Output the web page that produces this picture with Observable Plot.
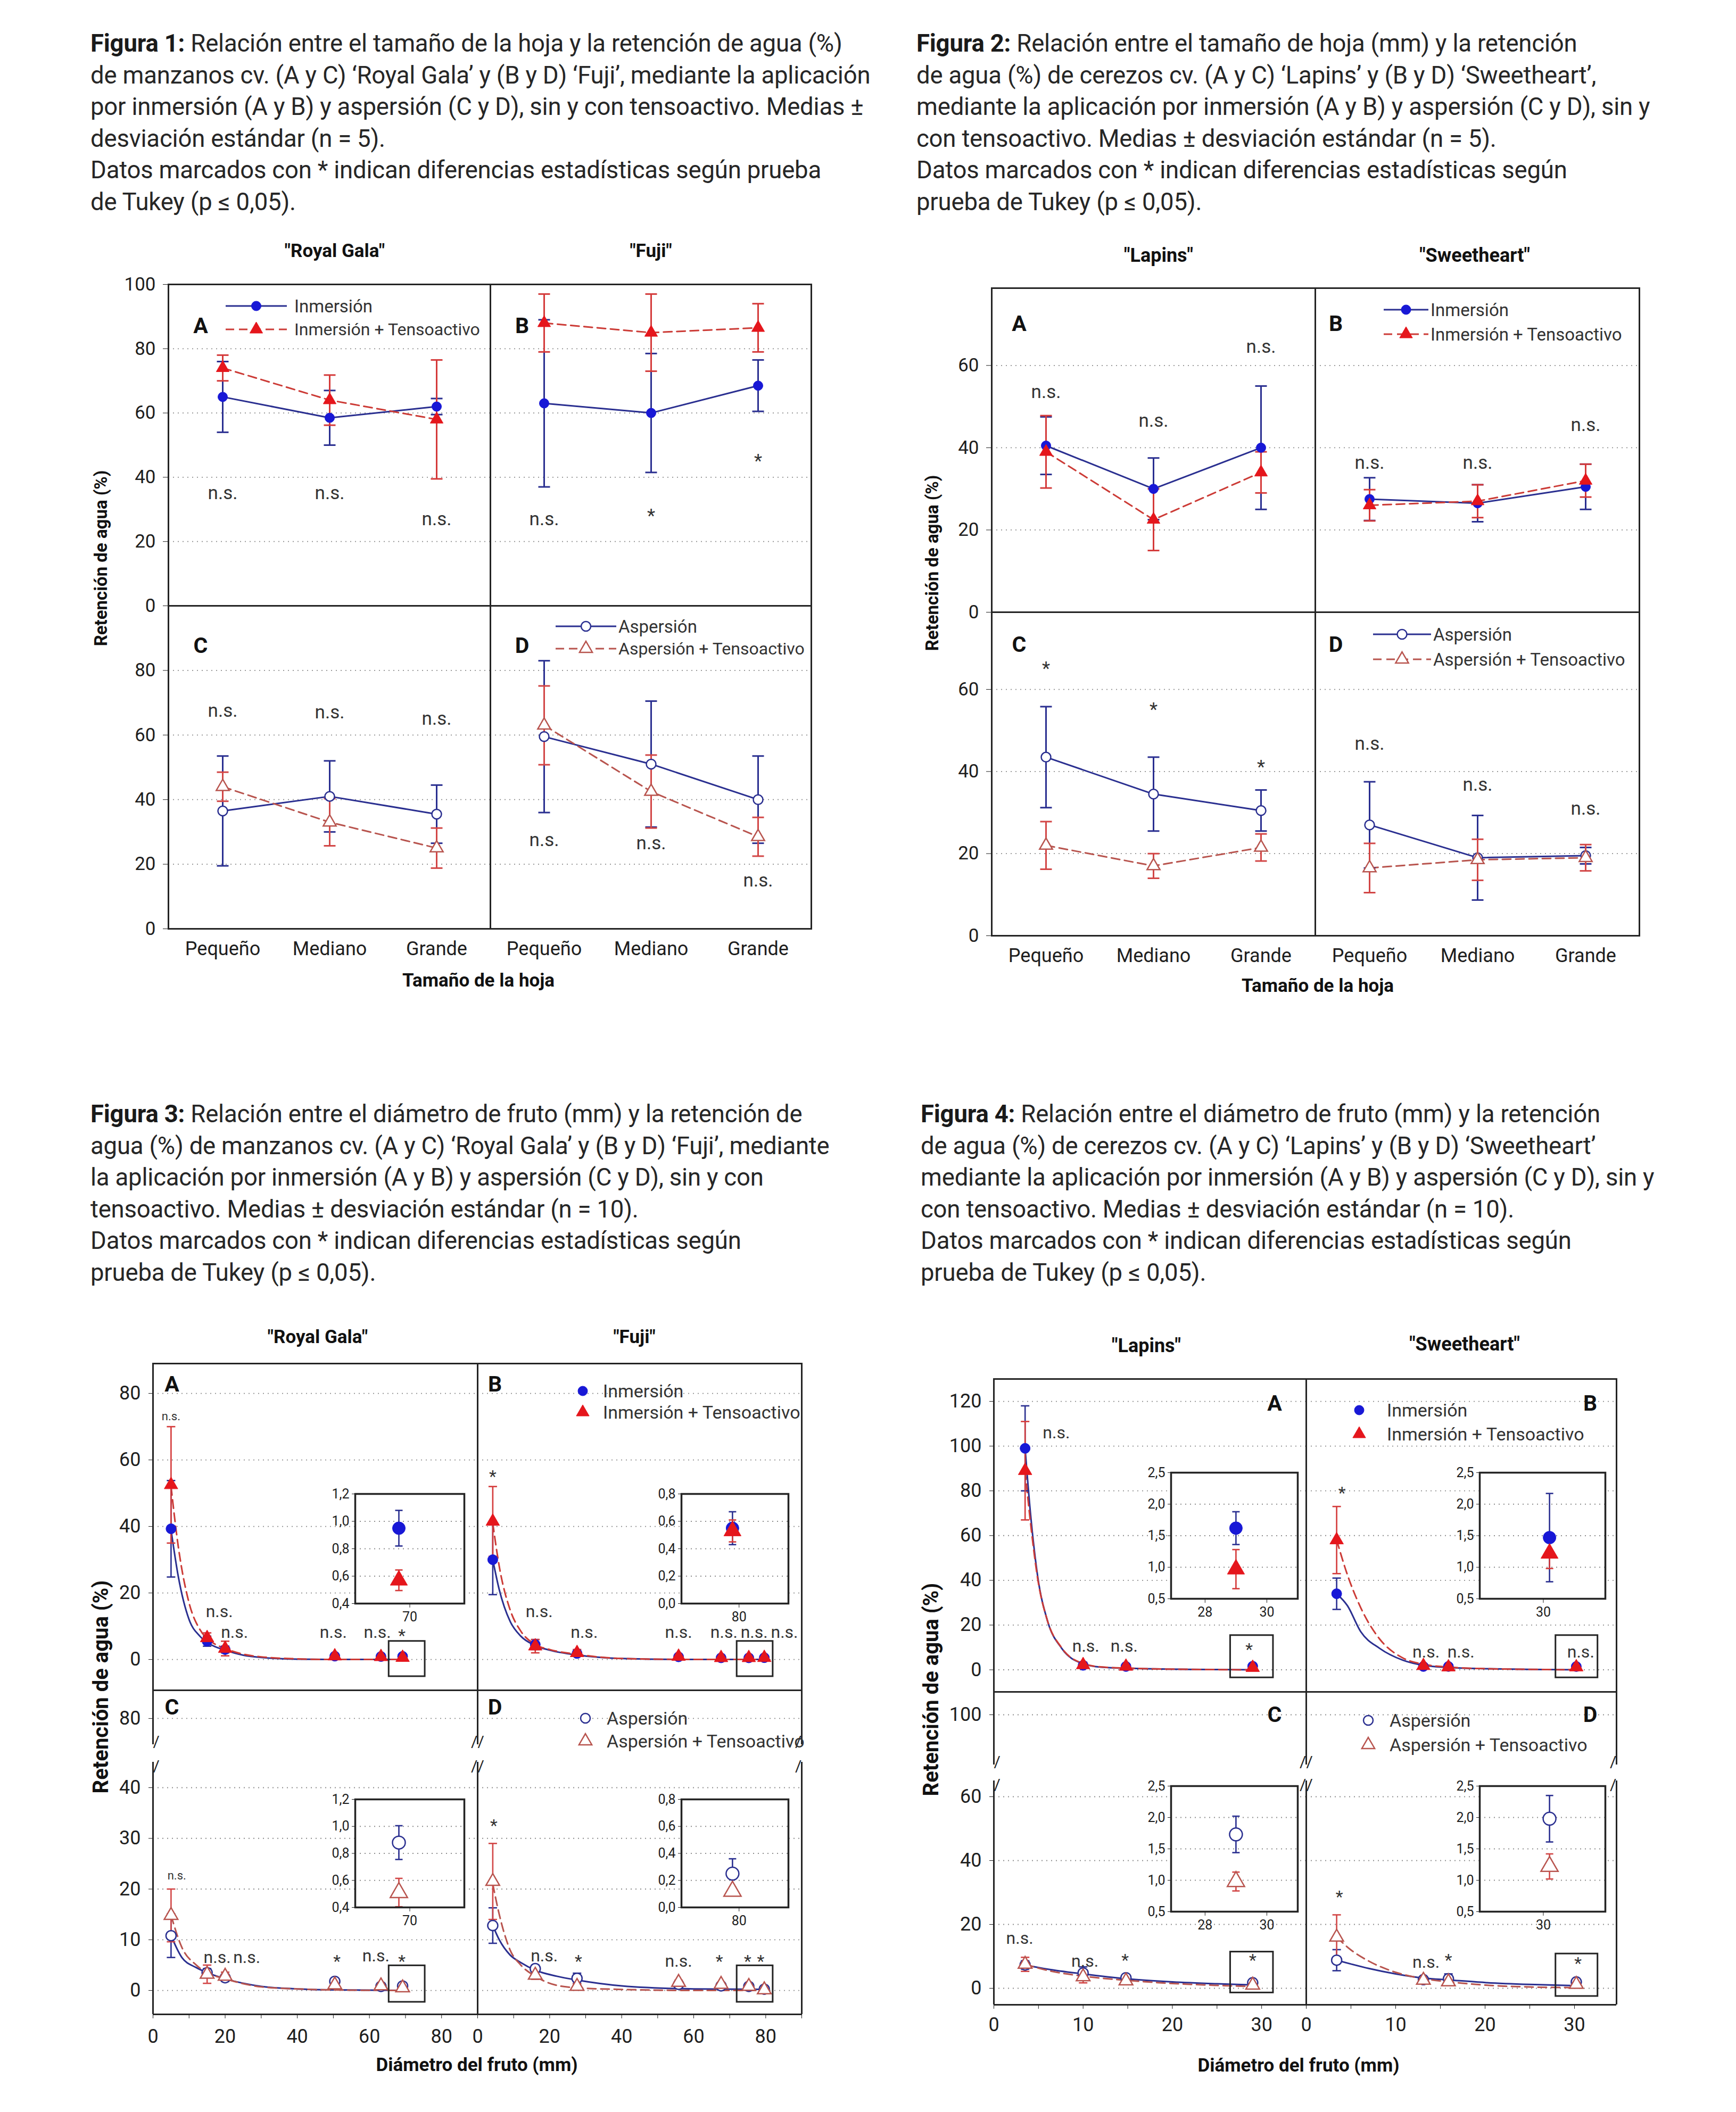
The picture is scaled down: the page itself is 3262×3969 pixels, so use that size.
<!DOCTYPE html>
<html><head><meta charset="utf-8">
<script src="https://cdn.jsdelivr.net/npm/d3@7"></script>
<script src="https://cdn.jsdelivr.net/npm/@observablehq/plot@0.6"></script>
<style>
body{margin:0;background:#fff;}
#page{position:relative;width:3262px;height:3969px;background:#fff;font-family:Roboto,"DejaVu Sans",sans-serif;overflow:hidden;color:#222;}
.cap{position:absolute;font-size:45.5px;line-height:59.5px;white-space:nowrap;letter-spacing:-0.2px;color:#262626;}
.cap b{font-weight:700;color:#1a1a1a;}
.lbl{position:absolute;white-space:nowrap;transform:translate(-50%,-50%);color:#111;}
</style>
</head><body><div id="page">
<div class="cap" style="left:170px;top:52px"><b>Figura 1:</b> Relación entre el tamaño de la hoja y la retención de agua (%)<br>de manzanos cv. (A y C) ‘Royal Gala’ y (B y D) ‘Fuji’, mediante la aplicación<br>por inmersión (A y B) y aspersión (C y D), sin y con tensoactivo. Medias ±<br>desviación estándar (n = 5).<br>Datos marcados con * indican diferencias estadísticas según prueba<br>de Tukey (p ≤ 0,05).</div>
<div class="cap" style="left:1722px;top:52px"><b>Figura 2:</b> Relación entre el tamaño de hoja (mm) y la retención<br>de agua (%) de cerezos cv. (A y C) ‘Lapins’ y (B y D) ‘Sweetheart’,<br>mediante la aplicación por inmersión (A y B) y aspersión (C y D), sin y<br>con tensoactivo. Medias ± desviación estándar (n = 5).<br>Datos marcados con * indican diferencias estadísticas según<br>prueba de Tukey (p ≤ 0,05).</div>
<div class="cap" style="left:170px;top:2064px"><b>Figura 3:</b> Relación entre el diámetro de fruto (mm) y la retención de<br>agua (%) de manzanos cv. (A y C) ‘Royal Gala’ y (B y D) ‘Fuji’, mediante<br>la aplicación por inmersión (A y B) y aspersión (C y D), sin y con<br>tensoactivo. Medias ± desviación estándar (n = 10).<br>Datos marcados con * indican diferencias estadísticas según<br>prueba de Tukey (p ≤ 0,05).</div>
<div class="cap" style="left:1730px;top:2064px"><b>Figura 4:</b> Relación entre el diámetro de fruto (mm) y la retención<br>de agua (%) de cerezos cv. (A y C) ‘Lapins’ y (B y D) ‘Sweetheart’<br>mediante la aplicación por inmersión (A y B) y aspersión (C y D), sin y<br>con tensoactivo. Medias ± desviación estándar (n = 10).<br>Datos marcados con * indican diferencias estadísticas según<br>prueba de Tukey (p ≤ 0,05).</div>
</div>
<script>
// ================= DATA =================
const sizes = ["Pequeño", "Mediano", "Grande"];

// Figura 1 (manzanos, tamaño de hoja)
const f1A_inm = [65, 58.5, 62];    const f1A_inmSd = [11, 8.5, 2.5];
const f1A_ten = [74, 64, 58];      const f1A_tenSd = [4, 7.8, 18.5];
const f1B_inm = [63, 60, 68.5];    const f1B_inmSd = [26, 18.5, 8];
const f1B_ten = [88, 85, 86.5];    const f1B_tenSd = [9, 12, 7.5];
const f1C_asp = [36.5, 41, 35.5];  const f1C_aspSd = [17, 11, 9];
const f1C_ten = [44, 33, 25];      const f1C_tenSd = [4.5, 7.3, 6.2];
const f1D_asp = [59.5, 51, 40];    const f1D_aspSd = [23.5, 19.5, 13.5];
const f1D_ten = [63, 42.5, 28.5];  const f1D_tenSd = [12.2, 11.3, 6];
const f1A_sig = ["n.s.", "n.s.", "n.s."]; const f1A_sigY = [35, 35, 27];
const f1B_sig = ["n.s.", "*", "*"];       const f1B_sigY = [27, 28, 45];
const f1C_sig = ["n.s.", "n.s.", "n.s."]; const f1C_sigY = [67.5, 67, 65];
const f1D_sig = ["n.s.", "n.s.", "n.s."]; const f1D_sigY = [27.5, 26.5, 15];
const f1_yTicksUpper = [0, 20, 40, 60, 80, 100];
const f1_yTicksLower = [0, 20, 40, 60, 80];
const f1_grid = [20, 40, 60, 80];

// Figura 2 (cerezos, tamaño de hoja)
const f2A_inm = [40.5, 30, 40];    const f2A_inmSd = [7, 7.5, 15];
const f2A_ten = [39, 22.5, 34];    const f2A_tenSd = [8.8, 7.5, 5];
const f2B_inm = [27.5, 26.5, 30.5]; const f2B_inmSd = [5.2, 4.5, 5.5];
const f2B_ten = [26, 27, 32];      const f2B_tenSd = [3.8, 4, 4];
const f2C_asp = [43.5, 34.5, 30.5]; const f2C_aspSd = [12.3, 9, 5];
const f2C_ten = [22, 17, 21.5];    const f2C_tenSd = [5.8, 3, 3.3];
const f2D_asp = [27, 19, 19.5];    const f2D_aspSd = [10.5, 10.3, 2];
const f2D_ten = [16.5, 18.5, 19];  const f2D_tenSd = [6, 5, 3.2];
const f2A_sig = ["n.s.", "n.s.", "n.s."]; const f2A_sigY = [53.5, 46.5, 64.5];
const f2B_sig = ["n.s.", "n.s.", "n.s."]; const f2B_sigY = [36.3, 36.3, 45.5];
const f2C_sig = ["*", "*", "*"];          const f2C_sigY = [65, 55, 41];
const f2D_sig = ["n.s.", "n.s.", "n.s."]; const f2D_sigY = [46.8, 36.8, 31];
const f2_yTicks = [0, 20, 40, 60];
const f2_grid = [20, 40, 60];

// Figura 3 (manzanos, diámetro de fruto)
const f3_rgX = [5, 15, 20, 50.4, 63.2, 69.2];
const f3_fjX = [4.2, 16, 27.6, 55.8, 67.6, 75.3, 79.6];
const f3A_inm = [39.3, 5.5, 3.0, 1.0, 0.9, 0.95];  const f3A_inmSd = [14.5, 1.5, 1.0, 0.3, 0.2, 0.13];
const f3A_ten = [52.5, 6.5, 3.3, 1.0, 0.8, 0.57];  const f3A_tenSd = [17.5, 1.5, 2.2, 0.5, 0.3, 0.075];
const f3B_inm = [30, 4.5, 1.8, 0.8, 0.5, 0.5, 0.55]; const f3B_inmSd = [10.5, 1.5, 0.8, 0.3, 0.2, 0.2, 0.12];
const f3B_ten = [41.5, 4.0, 2.0, 0.9, 0.5, 0.5, 0.53]; const f3B_tenSd = [10.5, 2.0, 1.0, 0.4, 0.2, 0.2, 0.08];
const f3C_asp = [10.8, 3.5, 2.5, 1.8, 0.8, 0.88]; const f3C_aspSd = [4.3, 0.8, 0.7, 0.5, 0.3, 0.125];
const f3C_ten = [14.8, 3.2, 2.8, 1.1, 0.9, 0.51]; const f3C_tenSd = [5.2, 1.8, 0.8, 0.4, 0.3, 0.105];
const f3D_asp = [12.8, 4.3, 2.4, 1.2, 0.9, 0.8, 0.25]; const f3D_aspSd = [3.5, 0.7, 1.0, 0.3, 0.2, 0.2, 0.11];
const f3D_ten = [21.5, 3.0, 0.8, 1.6, 1.2, 0.8, 0.12]; const f3D_tenSd = [7.5, 0.8, 0.5, 0.4, 0.2, 0.2, 0.03];
// trend curves
const f3A_cX = [5, 7, 10, 13, 16, 20, 25, 30, 40, 50, 70];
const f3A_cInm = [39, 25, 12, 7, 4.5, 2.8, 1.3, 0.6, 0.1, 0, 0];
const f3A_cTen = [52, 34, 17, 9, 5.5, 3.3, 1.6, 0.8, 0.2, 0, 0];
const f3B_cX = [4.2, 6, 9, 12, 16, 20, 28, 40, 60, 80];
const f3B_cInm = [30, 21, 11.5, 7, 4.2, 2.8, 1.3, 0.3, 0, 0];
const f3B_cTen = [41, 28, 15, 8.5, 4.5, 3, 1.5, 0.3, 0, 0];
const f3C_cX = [5, 8, 12, 15, 20, 30, 40, 50, 70];
const f3C_cAsp = [10.8, 6.5, 4.5, 3.5, 2.3, 0.8, 0.3, 0.1, 0];
const f3C_cTen = [14.8, 8.5, 5, 3.5, 2.3, 0.7, 0.3, 0.1, 0];
const f3D_cX = [4.2, 6, 9, 12, 16, 22, 28, 40, 60, 80];
const f3D_cAsp = [12.8, 10, 7, 5.5, 4, 2.8, 2, 0.9, 0.3, 0.2];
const f3D_cTen = [21, 15, 8, 5, 2.8, 1, 0.5, 0.2, 0, 0];
const f3A_sig = ["n.s.", "n.s.", "n.s.", "n.s.", "n.s.", "*"];
const f3A_sigX = [5, 18.4, 22.6, 50, 62.2, 69];  const f3A_sigY = [73, 14.4, 8.2, 8.2, 8.2, 7.2];
const f3B_sig = ["*", "n.s.", "n.s.", "n.s.", "n.s.", "n.s.", "n.s."];
const f3B_sigX = [4.2, 17.1, 29.6, 55.8, 68.4, 76.8, 85.2]; const f3B_sigY = [55, 14.4, 8.2, 8.2, 8.2, 8.2, 8.2];
const f3C_sig = ["n.s.", "n.s.", "n.s.", "*", "n.s.", "*"];
const f3C_sigX = [6.6, 17.8, 26, 51, 61.8, 69];  const f3C_sigY = [22.6, 6.5, 6.5, 5.8, 6.8, 5.8];
const f3D_sig = ["*", "n.s.", "*", "n.s.", "*", "*", "*"];
const f3D_sigX = [4.5, 18.5, 28, 55.8, 67.1, 75, 78.6]; const f3D_sigY = [32.5, 6.8, 5.8, 5.8, 5.8, 5.8, 5.8];
const f3_boxRG = {x1: 65.4, x2: 75.4};  const f3_boxFJ = {x1: 72, x2: 82};
const f3_boxUpperY = [-5.1, 5.5];       const f3_boxLowerY = [-2.3, 4.9];
const f3_xTicks = [0, 10, 20, 30, 40, 50, 60, 70, 80, 90];
const f3_xLabels = [0, 20, 40, 60, 80];
const f3_yTicksUpper = [0, 20, 40, 60, 80];
const f3_yTicksStrip = [80];
const f3_yTicksLower = [0, 10, 20, 30, 40];
const f3_inRG_y = [0.4, 0.6, 0.8, 1.0, 1.2]; const f3_inRG_x = [70];
const f3_inFJ_y = [0.0, 0.2, 0.4, 0.6, 0.8]; const f3_inFJ_x = [80];

// Figura 4 (cerezos, diámetro de fruto)
const f4_lpX = [3.5, 10, 14.8, 29.0];
const f4_swX = [3.4, 13.1, 15.9, 30.2];
const f4A_inm = [99, 2.0, 1.5, 1.62];  const f4A_inmSd = [19, 1.0, 0.7, 0.26];
const f4A_ten = [89, 2.2, 1.5, 0.97];  const f4A_tenSd = [22, 1.2, 0.8, 0.31];
const f4B_inm = [34, 1.5, 1.5, 1.47];  const f4B_inmSd = [7, 0.8, 0.8, 0.7];
const f4B_ten = [58, 1.8, 1.2, 1.22];  const f4B_tenSd = [15, 0.8, 0.7, 0.24];
const f4C_asp = [7.3, 4.8, 3.3, 1.73]; const f4C_aspSd = [1.3, 1.9, 0.8, 0.29];
const f4C_ten = [7.5, 3.6, 2.3, 0.98]; const f4C_tenSd = [2.2, 1.9, 0.7, 0.15];
const f4D_asp = [8.8, 2.7, 3.0, 1.98]; const f4D_aspSd = [3.3, 0.8, 1.5, 0.37];
const f4D_ten = [16, 2.5, 2.0, 1.22];  const f4D_tenSd = [7, 0.8, 0.7, 0.2];
const f4A_cX = [3.5, 4.1, 4.9, 6, 7.6, 10, 12, 16, 22, 29.5];
const f4A_cInm = [99, 70, 42, 22, 9.6, 2.7, 1.2, 0.6, 0.2, 0];
const f4A_cTen = [89, 66, 41, 22, 9.8, 2.8, 1.3, 0.6, 0.2, 0];
const f4B_cX = [3.4, 4.6, 6.1, 8.2, 10.8, 13.1, 16, 20, 25, 30.5];
const f4B_cInm = [34, 28.7, 17, 9.6, 4.3, 2.0, 1.0, 0.5, 0.2, 0];
const f4B_cTen = [58, 42.5, 27.7, 13.8, 5.3, 2.5, 1.2, 0.5, 0.2, 0];
const f4C_cX = [3.5, 6, 10, 14.8, 20, 25, 29.5];
const f4C_cAsp = [7.3, 6.0, 4.5, 3.0, 2.0, 1.4, 1.0];
const f4C_cTen = [7.5, 5.6, 3.8, 2.5, 1.5, 0.9, 0.5];
const f4D_cX = [3.4, 5, 7, 10, 13.1, 16, 20, 25, 30.5];
const f4D_cAsp = [8.8, 7.6, 6.2, 4.5, 3.2, 2.6, 1.8, 1.2, 0.8];
const f4D_cTen = [16, 12, 8.5, 5, 3, 2, 1, 0.4, 0.2];
const f4A_sig = ["n.s.", "n.s.", "n.s.", "*"]; const f4A_sigX = [7, 10.3, 14.6, 28.6]; const f4A_sigY = [106, 10.6, 10.6, 9];
const f4B_sig = ["*", "n.s.", "n.s.", "n.s."]; const f4B_sigX = [4, 13.4, 17.3, 30.7]; const f4B_sigY = [79, 8, 8, 8];
const f4C_sig = ["n.s.", "n.s.", "*", "*"];    const f4C_sigX = [2.9, 10.2, 14.7, 29.0]; const f4C_sigY = [15.6, 8.5, 8.8, 8.8];
const f4D_sig = ["*", "n.s.", "*", "*"];       const f4D_sigX = [3.7, 13.4, 15.9, 30.4]; const f4D_sigY = [28.7, 8.1, 8.8, 7.8];
const f4_boxLP = {x1: 26.5, x2: 31.3};  const f4_boxSW = {x1: 27.9, x2: 32.6};
const f4_boxUpperY = [-3.5, 15.4];
const f4_boxLowerYC = [-1.4, 11.4];     const f4_boxLowerYD = [-2.5, 10.8];
const f4_xTicks = [0, 5, 10, 15, 20, 25, 30];
const f4_xLabels = [0, 10, 20, 30];
const f4_yTicksUpper = [0, 20, 40, 60, 80, 100, 120];
const f4_yTicksStrip = [100];
const f4_yTicksLower = [0, 20, 40, 60];
const f4_in_y = [0.5, 1.0, 1.5, 2.0, 2.5];
const f4_inLP_x = [28, 30]; const f4_inSW_x = [30];

// ================= HELPERS =================
const page = document.getElementById("page");
const M = 120;
const GRID = "#8c8c8c";
const FRAME = "#242424";
const S = {
  inm:  {line: "#2a2f90", err: "#2a2f90", symbol: "circle",   fill: "#1818d6", stroke: "#1818d6", sw: 1},
  inmT: {line: "#cc3b36", err: "#d43a3a", symbol: "triangle", fill: "#e5161c", stroke: "#e5161c", sw: 1, dash: "16,9"},
  asp:  {line: "#2a2f90", err: "#2a2f90", symbol: "circle",   fill: "white",   stroke: "#2a2f90", sw: 2.5},
  aspT: {line: "#b8544e", err: "#d24646", symbol: "triangle", fill: "white",   stroke: "#b8544e", sw: 2.5, dash: "16,9"}
};
const rows = (xs, ms, sds) => xs.map((x, i) => ({x, m: ms[i], lo: ms[i] - sds[i], hi: ms[i] + sds[i]}));
const pts = (xs, ys) => xs.map((x, i) => ({x, y: ys[i]}));
const labs = (xs, ys, ts, smallFirst) => xs.map((x, i) => ({x, y: ys[i], t: ts[i], fs: (smallFirst && i === 0) ? 22 : 32}));
const lastRow = (xs, ms, sds) => rows(xs.slice(-1), ms.slice(-1), sds.slice(-1));
const comma1 = d => d.toFixed(1).replace(".", ",");
const capSymbol = {draw(ctx, size) { const w = Math.sqrt(size / Math.PI); ctx.moveTo(-w, 0); ctx.lineTo(w, 0); }};

function panel({left, top, width, height, x, y, marks}) {
  const svg = Plot.plot({
    width: width + 2 * M, height: height + 2 * M,
    marginLeft: M, marginRight: M, marginTop: M, marginBottom: M,
    x: {...x, axis: null, label: null}, y: {...y, axis: null, label: null},
    style: "font-family: Roboto, 'DejaVu Sans', sans-serif; background: transparent; color: #1e1e1e; overflow: visible;",
    marks
  });
  svg.style.position = "absolute";
  svg.style.left = (left - M) + "px";
  svg.style.top = (top - M) + "px";
  svg.style.maxWidth = "none";
  svg.style.height = (height + 2 * M) + "px";
  page.appendChild(svg);
  return svg;
}
function errMarks(data, st, capR, sw) {
  return [
    Plot.ruleX(data, {x: "x", y1: "lo", y2: "hi", stroke: st.err, strokeWidth: sw}),
    Plot.dot(data, {x: "x", y: "lo", symbol: capSymbol, r: capR, stroke: st.err, strokeWidth: sw, fill: "none"}),
    Plot.dot(data, {x: "x", y: "hi", symbol: capSymbol, r: capR, stroke: st.err, strokeWidth: sw, fill: "none"})
  ];
}
function markerMark(data, st, r) {
  return Plot.dot(data, {x: "x", y: "m", symbol: st.symbol, r, fill: st.fill, stroke: st.stroke, strokeWidth: st.sw});
}
function gridMark(values) {
  return Plot.gridY(values, {stroke: GRID, strokeOpacity: 1, strokeWidth: 1.8, strokeDasharray: "2,7"});
}
function label(text, x, y, css) {
  const d = document.createElement("div");
  d.className = "lbl"; d.textContent = text;
  d.style.left = x + "px"; d.style.top = y + "px";
  Object.assign(d.style, css || {});
  page.appendChild(d);
}

// ---- category panels (Fig 1, 2)
function catPanel(o) {
  const marks = [
    gridMark(o.grid),
    Plot.line(o.a, {x: "x", y: "m", stroke: o.sa.line, strokeWidth: 3}),
    Plot.line(o.b, {x: "x", y: "m", stroke: o.sb.line, strokeWidth: 3, strokeDasharray: o.sb.dash}),
    ...errMarks(o.a, o.sa, 11, 3), ...errMarks(o.b, o.sb, 11, 3),
    markerMark(o.a, o.sa, 9), markerMark(o.b, o.sb, 9),
    Plot.text(o.sig, {x: "x", y: "y", text: "t", fontSize: 35, fill: "#333"}),
    Plot.frame({stroke: FRAME, strokeWidth: 3})
  ];
  if (o.yTicks) marks.push(Plot.axisY(o.yTicks, {anchor: "left", label: null, tickSize: 10, tickPadding: 14, fontSize: 35, tickFormat: d => d}));
  if (o.xAxis) marks.push(Plot.axisX(sizes, {anchor: "bottom", label: null, tickSize: 0, tickPadding: 24, fontSize: 36}));
  panel({left: o.left, top: o.top, width: o.width, height: o.height,
    x: {type: "point", domain: sizes, padding: 0.5}, y: {domain: o.yDomain}, marks});
}

// ---- continuous panels (Fig 3, 4)
function contPanel(o) {
  const marks = [
    gridMark(o.grid),
    Plot.line(o.ca, {x: "x", y: "y", stroke: o.sa.line, strokeWidth: 3, curve: "monotone-x", clip: true}),
    Plot.line(o.cb, {x: "x", y: "y", stroke: o.sb.line, strokeWidth: 3, strokeDasharray: o.sb.dash, curve: "monotone-x", clip: true}),
    ...errMarks(o.a, o.sa, 8, 2.6), ...errMarks(o.b, o.sb, 8, 2.6),
    markerMark(o.a, o.sa, 9.5), markerMark(o.b, o.sb, 9.5),
    Plot.rect(o.box, {x1: "x1", x2: "x2", y1: "y1", y2: "y2", stroke: FRAME, strokeWidth: 3, fill: "none"}),
    Plot.text(o.sig, {x: "x", y: "y", text: "t", fontSize: "fs", fill: "#333"})
  ];
  if (o.full) marks.push(Plot.frame({stroke: FRAME, strokeWidth: 3}));
  else marks.push(Plot.ruleX(o.xDomain, {stroke: FRAME, strokeWidth: 3}), Plot.ruleY([o.yDomain[0]], {stroke: FRAME, strokeWidth: 3}),
    Plot.text(["/"], {frameAnchor: "top-left", dy: -4, fontSize: 30, fill: FRAME, text: d => d}),
    Plot.text(["/"], {frameAnchor: "top-right", dy: -4, fontSize: 30, fill: FRAME, text: d => d}));
  if (o.yTicks) marks.push(Plot.axisY(o.yTicks, {anchor: "left", label: null, tickSize: 8, tickPadding: 15, fontSize: 36, tickFormat: d => d}));
  if (o.xTicks) marks.push(Plot.axisX(o.xTicks, {anchor: "bottom", label: null, tickSize: 8, tickPadding: o.xPad, fontSize: 36, tickFormat: d => o.xLabels.includes(d) ? d : ""}));
  panel({left: o.left, top: o.top, width: o.width, height: o.height, x: {domain: o.xDomain}, y: {domain: o.yDomain}, marks});
}
function stripPanel(o) {
  const marks = [
    gridMark(o.grid),
    Plot.ruleX(o.xDomain, {stroke: FRAME, strokeWidth: 3}),
    Plot.text(["/"], {frameAnchor: "bottom-left", dy: 4, fontSize: 30, fill: FRAME, text: d => d}),
    Plot.text(["/"], {frameAnchor: "bottom-right", dy: 4, fontSize: 30, fill: FRAME, text: d => d})
  ];
  if (o.yTicks) marks.push(Plot.axisY(o.yTicks, {anchor: "left", label: null, tickSize: 8, tickPadding: 15, fontSize: 36, tickFormat: d => d}));
  panel({left: o.left, top: o.top, width: o.width, height: o.height, x: {domain: o.xDomain}, y: {domain: o.yDomain}, marks});
}
function insetPanel(o) {
  panel({left: o.left, top: o.top, width: o.width, height: o.height, x: {domain: o.xDomain}, y: {domain: o.yDomain}, marks: [
    Plot.frame({fill: "white", stroke: "none"}),
    gridMark(o.yTicks.slice(1, -1)),
    ...errMarks(o.a, o.sa, 7, 2.6), ...errMarks(o.b, o.sb, 7, 2.6),
    markerMark(o.a, o.sa, 12), markerMark(o.b, o.sb, 12),
    Plot.frame({stroke: FRAME, strokeWidth: 3.5}),
    Plot.axisY(o.yTicks, {anchor: "left", label: null, tickSize: 6, tickPadding: 5, fontSize: 25, tickFormat: comma1}),
    Plot.axisX(o.xTicks, {anchor: "bottom", label: null, tickSize: 8, tickPadding: 8, fontSize: 25, tickFormat: d => d})
  ]});
}

// ================= FIGURA 1 =================
const F1 = {l: 316, m: 921, r: 1524, t: 534, d: 1138, b: 1745};
catPanel({left: F1.l, top: F1.t, width: F1.m - F1.l, height: F1.d - F1.t, yDomain: [0, 100], yTicks: f1_yTicksUpper, grid: f1_grid,
  a: rows(sizes, f1A_inm, f1A_inmSd), b: rows(sizes, f1A_ten, f1A_tenSd), sa: S.inm, sb: S.inmT, sig: labs(sizes, f1A_sigY, f1A_sig)});
catPanel({left: F1.m, top: F1.t, width: F1.r - F1.m, height: F1.d - F1.t, yDomain: [0, 100], grid: f1_grid,
  a: rows(sizes, f1B_inm, f1B_inmSd), b: rows(sizes, f1B_ten, f1B_tenSd), sa: S.inm, sb: S.inmT, sig: labs(sizes, f1B_sigY, f1B_sig)});
catPanel({left: F1.l, top: F1.d, width: F1.m - F1.l, height: F1.b - F1.d, yDomain: [0, 100], yTicks: f1_yTicksLower, grid: f1_grid, xAxis: true,
  a: rows(sizes, f1C_asp, f1C_aspSd), b: rows(sizes, f1C_ten, f1C_tenSd), sa: S.asp, sb: S.aspT, sig: labs(sizes, f1C_sigY, f1C_sig)});
catPanel({left: F1.m, top: F1.d, width: F1.r - F1.m, height: F1.b - F1.d, yDomain: [0, 100], grid: f1_grid, xAxis: true,
  a: rows(sizes, f1D_asp, f1D_aspSd), b: rows(sizes, f1D_ten, f1D_tenSd), sa: S.asp, sb: S.aspT, sig: labs(sizes, f1D_sigY, f1D_sig)});

// ================= FIGURA 2 =================
const F2 = {l: 1863, m: 2471, r: 3080, t: 541, d: 1150, b: 1758};
catPanel({left: F2.l, top: F2.t, width: F2.m - F2.l, height: F2.d - F2.t, yDomain: [0, 78.8], yTicks: f2_yTicks, grid: f2_grid,
  a: rows(sizes, f2A_inm, f2A_inmSd), b: rows(sizes, f2A_ten, f2A_tenSd), sa: S.inm, sb: S.inmT, sig: labs(sizes, f2A_sigY, f2A_sig)});
catPanel({left: F2.m, top: F2.t, width: F2.r - F2.m, height: F2.d - F2.t, yDomain: [0, 78.8], grid: f2_grid,
  a: rows(sizes, f2B_inm, f2B_inmSd), b: rows(sizes, f2B_ten, f2B_tenSd), sa: S.inm, sb: S.inmT, sig: labs(sizes, f2B_sigY, f2B_sig)});
catPanel({left: F2.l, top: F2.d, width: F2.m - F2.l, height: F2.b - F2.d, yDomain: [0, 78.8], yTicks: f2_yTicks, grid: f2_grid, xAxis: true,
  a: rows(sizes, f2C_asp, f2C_aspSd), b: rows(sizes, f2C_ten, f2C_tenSd), sa: S.asp, sb: S.aspT, sig: labs(sizes, f2C_sigY, f2C_sig)});
catPanel({left: F2.m, top: F2.d, width: F2.r - F2.m, height: F2.b - F2.d, yDomain: [0, 78.8], grid: f2_grid, xAxis: true,
  a: rows(sizes, f2D_asp, f2D_aspSd), b: rows(sizes, f2D_ten, f2D_tenSd), sa: S.asp, sb: S.aspT, sig: labs(sizes, f2D_sigY, f2D_sig)});

// ================= FIGURA 3 =================
const F3 = {l: 287, m: 897, r: 1506, t: 2562, d: 3176, s: 3278, u: 3311, b: 3785};
const f3UpY = [-9.26, 88.97], f3StripY = [74.85, 85.56], f3LowY = [-4.72, 45.04], f3X = [0, 90];
contPanel({full: true, left: F3.l, top: F3.t, width: F3.m - F3.l, height: F3.d - F3.t, xDomain: f3X, yDomain: f3UpY, grid: f3_yTicksUpper, yTicks: f3_yTicksUpper,
  a: rows(f3_rgX, f3A_inm, f3A_inmSd), b: rows(f3_rgX, f3A_ten, f3A_tenSd), sa: S.inm, sb: S.inmT,
  ca: pts(f3A_cX, f3A_cInm), cb: pts(f3A_cX, f3A_cTen), box: [{...f3_boxRG, y1: f3_boxUpperY[0], y2: f3_boxUpperY[1]}],
  sig: labs(f3A_sigX, f3A_sigY, f3A_sig, true)});
contPanel({full: true, left: F3.m, top: F3.t, width: F3.r - F3.m, height: F3.d - F3.t, xDomain: f3X, yDomain: f3UpY, grid: f3_yTicksUpper,
  a: rows(f3_fjX, f3B_inm, f3B_inmSd), b: rows(f3_fjX, f3B_ten, f3B_tenSd), sa: S.inm, sb: S.inmT,
  ca: pts(f3B_cX, f3B_cInm), cb: pts(f3B_cX, f3B_cTen), box: [{...f3_boxFJ, y1: f3_boxUpperY[0], y2: f3_boxUpperY[1]}],
  sig: labs(f3B_sigX, f3B_sigY, f3B_sig)});
stripPanel({left: F3.l, top: F3.d, width: F3.m - F3.l, height: F3.s - F3.d, xDomain: f3X, yDomain: f3StripY, grid: f3_yTicksStrip, yTicks: f3_yTicksStrip});
stripPanel({left: F3.m, top: F3.d, width: F3.r - F3.m, height: F3.s - F3.d, xDomain: f3X, yDomain: f3StripY, grid: f3_yTicksStrip});
contPanel({left: F3.l, top: F3.u, width: F3.m - F3.l, height: F3.b - F3.u, xDomain: f3X, yDomain: f3LowY, grid: f3_yTicksLower, yTicks: f3_yTicksLower,
  xTicks: f3_xTicks, xLabels: f3_xLabels, xPad: 20,
  a: rows(f3_rgX, f3C_asp, f3C_aspSd), b: rows(f3_rgX, f3C_ten, f3C_tenSd), sa: S.asp, sb: S.aspT,
  ca: pts(f3C_cX, f3C_cAsp), cb: pts(f3C_cX, f3C_cTen), box: [{...f3_boxRG, y1: f3_boxLowerY[0], y2: f3_boxLowerY[1]}],
  sig: labs(f3C_sigX, f3C_sigY, f3C_sig, true)});
contPanel({left: F3.m, top: F3.u, width: F3.r - F3.m, height: F3.b - F3.u, xDomain: f3X, yDomain: f3LowY, grid: f3_yTicksLower,
  xTicks: f3_xTicks, xLabels: f3_xLabels, xPad: 20,
  a: rows(f3_fjX, f3D_asp, f3D_aspSd), b: rows(f3_fjX, f3D_ten, f3D_tenSd), sa: S.asp, sb: S.aspT,
  ca: pts(f3D_cX, f3D_cAsp), cb: pts(f3D_cX, f3D_cTen), box: [{...f3_boxFJ, y1: f3_boxLowerY[0], y2: f3_boxLowerY[1]}],
  sig: labs(f3D_sigX, f3D_sigY, f3D_sig)});
insetPanel({left: 667, top: 2807, width: 205, height: 206, xDomain: [66, 74], yDomain: [0.4, 1.2], yTicks: f3_inRG_y, xTicks: f3_inRG_x,
  a: lastRow(f3_rgX, f3A_inm, f3A_inmSd), b: lastRow(f3_rgX, f3A_ten, f3A_tenSd), sa: S.inm, sb: S.inmT});
insetPanel({left: 1280, top: 2807, width: 201, height: 206, xDomain: [76.5, 83], yDomain: [0, 0.8], yTicks: f3_inFJ_y, xTicks: f3_inFJ_x,
  a: lastRow(f3_fjX, f3B_inm, f3B_inmSd), b: lastRow(f3_fjX, f3B_ten, f3B_tenSd), sa: S.inm, sb: S.inmT});
insetPanel({left: 667, top: 3381, width: 205, height: 203, xDomain: [66, 74], yDomain: [0.4, 1.2], yTicks: f3_inRG_y, xTicks: f3_inRG_x,
  a: lastRow(f3_rgX, f3C_asp, f3C_aspSd), b: lastRow(f3_rgX, f3C_ten, f3C_tenSd), sa: S.asp, sb: S.aspT});
insetPanel({left: 1280, top: 3381, width: 201, height: 203, xDomain: [76.5, 83], yDomain: [0, 0.8], yTicks: f3_inFJ_y, xTicks: f3_inFJ_x,
  a: lastRow(f3_fjX, f3D_asp, f3D_aspSd), b: lastRow(f3_fjX, f3D_ten, f3D_tenSd), sa: S.asp, sb: S.aspT});

// ================= FIGURA 4 =================
const F4 = {l: 1867, m: 2454, r: 3037, t: 2591, d: 3179, s: 3316, u: 3346, b: 3767};
const f4UpY = [-9.87, 130], f4StripY = [84.25, 107.2], f4LowY = [-5.17, 65], f4XL = [0, 35], f4XR = [0, 34.7];
contPanel({full: true, left: F4.l, top: F4.t, width: F4.m - F4.l, height: F4.d - F4.t, xDomain: f4XL, yDomain: f4UpY, grid: f4_yTicksUpper, yTicks: f4_yTicksUpper,
  a: rows(f4_lpX, f4A_inm, f4A_inmSd), b: rows(f4_lpX, f4A_ten, f4A_tenSd), sa: S.inm, sb: S.inmT,
  ca: pts(f4A_cX, f4A_cInm), cb: pts(f4A_cX, f4A_cTen), box: [{...f4_boxLP, y1: f4_boxUpperY[0], y2: f4_boxUpperY[1]}],
  sig: labs(f4A_sigX, f4A_sigY, f4A_sig)});
contPanel({full: true, left: F4.m, top: F4.t, width: F4.r - F4.m, height: F4.d - F4.t, xDomain: f4XR, yDomain: f4UpY, grid: f4_yTicksUpper,
  a: rows(f4_swX, f4B_inm, f4B_inmSd), b: rows(f4_swX, f4B_ten, f4B_tenSd), sa: S.inm, sb: S.inmT,
  ca: pts(f4B_cX, f4B_cInm), cb: pts(f4B_cX, f4B_cTen), box: [{...f4_boxSW, y1: f4_boxUpperY[0], y2: f4_boxUpperY[1]}],
  sig: labs(f4B_sigX, f4B_sigY, f4B_sig)});
stripPanel({left: F4.l, top: F4.d, width: F4.m - F4.l, height: F4.s - F4.d, xDomain: f4XL, yDomain: f4StripY, grid: f4_yTicksStrip, yTicks: f4_yTicksStrip});
stripPanel({left: F4.m, top: F4.d, width: F4.r - F4.m, height: F4.s - F4.d, xDomain: f4XR, yDomain: f4StripY, grid: f4_yTicksStrip});
contPanel({left: F4.l, top: F4.u, width: F4.m - F4.l, height: F4.b - F4.u, xDomain: f4XL, yDomain: f4LowY, grid: f4_yTicksLower, yTicks: f4_yTicksLower,
  xTicks: f4_xTicks, xLabels: f4_xLabels, xPad: 16,
  a: rows(f4_lpX, f4C_asp, f4C_aspSd), b: rows(f4_lpX, f4C_ten, f4C_tenSd), sa: S.asp, sb: S.aspT,
  ca: pts(f4C_cX, f4C_cAsp), cb: pts(f4C_cX, f4C_cTen), box: [{...f4_boxLP, y1: f4_boxLowerYC[0], y2: f4_boxLowerYC[1]}],
  sig: labs(f4C_sigX, f4C_sigY, f4C_sig)});
contPanel({left: F4.m, top: F4.u, width: F4.r - F4.m, height: F4.b - F4.u, xDomain: f4XR, yDomain: f4LowY, grid: f4_yTicksLower,
  xTicks: f4_xTicks, xLabels: f4_xLabels, xPad: 16,
  a: rows(f4_swX, f4D_asp, f4D_aspSd), b: rows(f4_swX, f4D_ten, f4D_tenSd), sa: S.asp, sb: S.aspT,
  ca: pts(f4D_cX, f4D_cAsp), cb: pts(f4D_cX, f4D_cTen), box: [{...f4_boxSW, y1: f4_boxLowerYD[0], y2: f4_boxLowerYD[1]}],
  sig: labs(f4D_sigX, f4D_sigY, f4D_sig)});
insetPanel({left: 2200, top: 2767, width: 238, height: 237, xDomain: [26.9, 31.0], yDomain: [0.5, 2.5], yTicks: f4_in_y, xTicks: f4_inLP_x,
  a: lastRow(f4_lpX, f4A_inm, f4A_inmSd), b: lastRow(f4_lpX, f4A_ten, f4A_tenSd), sa: S.inm, sb: S.inmT});
insetPanel({left: 2780, top: 2767, width: 236, height: 237, xDomain: [27.95, 32.0], yDomain: [0.5, 2.5], yTicks: f4_in_y, xTicks: f4_inSW_x,
  a: lastRow(f4_swX, f4B_inm, f4B_inmSd), b: lastRow(f4_swX, f4B_ten, f4B_tenSd), sa: S.inm, sb: S.inmT});
insetPanel({left: 2200, top: 3356, width: 238, height: 236, xDomain: [26.9, 31.0], yDomain: [0.5, 2.5], yTicks: f4_in_y, xTicks: f4_inLP_x,
  a: lastRow(f4_lpX, f4C_asp, f4C_aspSd), b: lastRow(f4_lpX, f4C_ten, f4C_tenSd), sa: S.asp, sb: S.aspT});
insetPanel({left: 2780, top: 3356, width: 236, height: 236, xDomain: [27.95, 32.0], yDomain: [0.5, 2.5], yTicks: f4_in_y, xTicks: f4_inSW_x,
  a: lastRow(f4_swX, f4D_asp, f4D_aspSd), b: lastRow(f4_swX, f4D_ten, f4D_tenSd), sa: S.asp, sb: S.aspT});

// ================= TEXT LABELS =================
const bold = (fs) => ({fontWeight: "700", fontSize: fs + "px"});
label('"Royal Gala"', 629, 471, bold(35)); label('"Fuji"', 1223, 471, bold(35));
label('"Lapins"', 2177, 480, bold(36)); label('"Sweetheart"', 2771, 480, bold(36));
label('"Royal Gala"', 597, 2512, bold(35)); label('"Fuji"', 1192, 2512, bold(35));
label('"Lapins"', 2154, 2529, bold(36)); label('"Sweetheart"', 2752, 2526, bold(36));
label("Tamaño de la hoja", 899, 1842, bold(35)); label("Tamaño de la hoja", 2476, 1852, bold(35));
label("Diámetro del fruto (mm)", 896, 3880, bold(35)); label("Diámetro del fruto (mm)", 2440, 3881, bold(35));
const rot = {transform: "translate(-50%,-50%) rotate(-90deg)"};
label("Retención de agua (%)", 189, 1049, {...bold(33), ...rot}); label("Retención de agua (%)", 1751, 1058, {...bold(33), ...rot});
label("Retención de agua (%)", 189, 3170, {...bold(40), ...rot}); label("Retención de agua (%)", 1749, 3175, {...bold(40), ...rot});
[["A", 377, 612], ["B", 981, 612], ["C", 377, 1213], ["D", 981, 1213],
 ["A", 1915, 608], ["B", 2510, 608], ["C", 1915, 1211], ["D", 2510, 1211],
 ["A", 323, 2601], ["B", 930, 2601], ["C", 323, 3208], ["D", 930, 3208],
 ["A", 2395, 2637], ["B", 2988, 2637], ["C", 2395, 3222], ["D", 2988, 3222]]
 .forEach(([t, x, y]) => label(t, x, y, bold(41)));

// ================= LEGENDS =================
const ov = d3.create("svg").attr("width", 3262).attr("height", 3969)
  .style("position", "absolute").style("left", "0px").style("top", "0px").style("pointer-events", "none");
const sym = (st, r) => d3.symbol(st.symbol === "circle" ? d3.symbolCircle : d3.symbolTriangle, Math.PI * r * r)();
function legRow(x1, x2, y, tx, text, st, withLine, fs) {
  const g = ov.append("g");
  if (withLine) g.append("line").attr("x1", x1).attr("x2", x2).attr("y1", y).attr("y2", y)
    .attr("stroke", st.line).attr("stroke-width", 3).attr("stroke-dasharray", st.dash || null);
  g.append("path").attr("d", sym(st, 9)).attr("transform", `translate(${(x1 + x2) / 2},${y})`)
    .attr("fill", st.fill).attr("stroke", st.stroke).attr("stroke-width", st.sw);
  g.append("text").attr("x", tx).attr("y", y).attr("dy", "0.35em").attr("font-size", fs)
    .attr("font-family", "Roboto, sans-serif").attr("fill", "#333").text(text);
}
legRow(424, 539, 575, 553, "Inmersión", S.inm, true, 33);
legRow(424, 539, 619, 553, "Inmersión + Tensoactivo", S.inmT, true, 32);
legRow(1044, 1158, 1177, 1162, "Aspersión", S.asp, true, 33);
legRow(1044, 1158, 1219, 1162, "Aspersión + Tensoactivo", S.aspT, true, 32);
legRow(2600, 2684, 582, 2688, "Inmersión", S.inm, true, 33);
legRow(2600, 2684, 628, 2688, "Inmersión + Tensoactivo", S.inmT, true, 33);
legRow(2580, 2689, 1192, 2693, "Aspersión", S.asp, true, 33);
legRow(2580, 2689, 1239, 2693, "Aspersión + Tensoactivo", S.aspT, true, 33);
legRow(1095, 1095, 2614, 1133, "Inmersión", S.inm, false, 34);
legRow(1095, 1095, 2654, 1133, "Inmersión + Tensoactivo", S.inmT, false, 34);
legRow(1100, 1100, 3229, 1140, "Aspersión", S.asp, false, 34);
legRow(1100, 1100, 3272, 1140, "Aspersión + Tensoactivo", S.aspT, false, 34);
legRow(2554, 2554, 2650, 2606, "Inmersión", S.inm, false, 34);
legRow(2554, 2554, 2695, 2606, "Inmersión + Tensoactivo", S.inmT, false, 34);
legRow(2571, 2571, 3233, 2611, "Aspersión", S.asp, false, 34);
legRow(2571, 2571, 3279, 2611, "Aspersión + Tensoactivo", S.aspT, false, 34);
page.appendChild(ov.node());
</script>
</body></html>
